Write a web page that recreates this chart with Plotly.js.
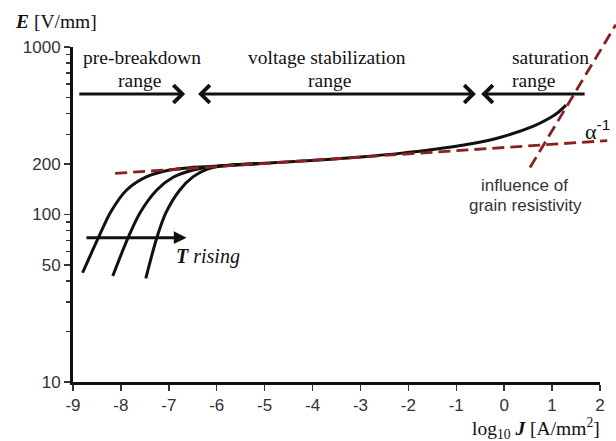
<!DOCTYPE html>
<html>
<head>
<meta charset="utf-8">
<script src="https://cdn.plot.ly/plotly-3.0.1.min.js"></script>
<style>html,body{margin:0;padding:0;background:#fff;}#chart{width:616px;height:441px;}</style>
</head>
<body>
<div id="chart"></div>
<script>
// ---------- data ----------
const xTicks = [-9, -8, -7, -6, -5, -4, -3, -2, -1, 0, 1, 2];
const xTickText = ['-9', '-8', '-7', '-6', '-5', '-4', '-3', '-2', '-1', '0', '1', '2'];
const yTicks = [10, 50, 100, 200, 1000];
const yTickText = ['10', '50', '100', '200', '1000'];
const yMinorTicks = [20, 30, 40, 60, 70, 80, 90, 300, 400, 500, 600, 700, 800, 900];

// common curve (voltage stabilization + saturation)
const mainX = [-6.14, -5.10, -3.84, -2.80, -2.18, -1.49, -0.78, -0.09, 0.60, 0.96, 1.13, 1.29];
const mainY = [193.5, 201.6, 211.5, 223.0, 231.7, 244.3, 261.7, 288.5, 336.0, 378.0, 408.0, 450.0];
// pre-breakdown curves at three temperatures
const curve1X = [-8.80, -8.47, -8.21, -7.88, -7.46, -6.98, -6.49, -6.14];
const curve1Y = [44.9, 72.7, 103.9, 140.1, 168.2, 184.4, 191.3, 193.5];
const curve2X = [-8.17, -7.85, -7.60, -7.25, -6.91, -6.49, -6.07, -5.10];
const curve2Y = [42.9, 72.7, 102.5, 140.1, 166.8, 184.4, 192.9, 201.6];
const curve3X = [-7.48, -7.25, -7.06, -6.77, -6.49, -6.21, -5.93, -5.10];
const curve3Y = [41.6, 72.7, 102.5, 140.1, 168.2, 186.2, 194.9, 201.6];
// dashed asymptotes
const alphaX = [-8.12, 2.15];
const alphaY = [176, 276];
const grainX = [0.54, 2.33];
const grainY = [191, 1360];
// range arrows [tail/left, tip/right], level
const preArrow = [-8.90, -6.66];
const stabArrow = [-6.42, -0.59];
const satArrow = [1.71, -0.48];
const rangeArrowY = 524;
const tArrow = [-8.75, -6.63];
const tArrowY = 72.7;

// ---------- layout geometry ----------
const W = 616, H = 441;
const L = 73, R = 600, T = 47, B = 382;
const xr = [-9, 2], yr = [1, 3];
const kx = (xr[1] - xr[0]) / (R - L);
const ky = (yr[1] - yr[0]) / (B - T);
const PX = px => px / W;
const PY = py => 1 - py / H;

const black = '#111';
const red = '#8c1f1f';
const serif = 'Liberation Serif, Times New Roman, serif';
const sans = 'Liberation Sans, Arial, sans-serif';

function blk(x, y) {
  return {x: x, y: y, xaxis: 'x', yaxis: 'y', type: 'scatter', mode: 'lines',
    line: {color: black, width: 3, shape: 'spline', smoothing: 0.9}, hoverinfo: 'skip', showlegend: false};
}
function dash(x, y) {
  return {x: x, y: y, xaxis: 'x2', yaxis: 'y2', type: 'scatter', mode: 'lines',
    line: {color: red, width: 2.8, dash: '12px,6px'}, hoverinfo: 'skip', showlegend: false};
}

const traces = [
  blk(curve1X, curve1Y), blk(curve2X, curve2Y), blk(curve3X, curve3Y), blk(mainX, mainY),
  dash(alphaX, alphaY), dash(grainX, grainY)
];

function label(text, px, py, xanchor, size, family, color) {
  return {text: text, xref: 'paper', yref: 'paper', x: PX(px), y: PY(py),
    xanchor: xanchor, yanchor: 'middle', showarrow: false,
    font: {family: family || serif, size: size || 19.5, color: color || '#111'}};
}
function arrow(tail, tip, yv, head, side, w, s) {
  return {text: '', xref: 'x', yref: 'y', axref: 'x', ayref: 'y',
    x: tip, y: Math.log10(yv), ax: tail, ay: Math.log10(yv),
    showarrow: true, arrowhead: head, startarrowhead: head, arrowside: side,
    arrowwidth: w, arrowsize: s, startarrowsize: s, arrowcolor: black, standoff: 0, startstandoff: 0};
}

const annotations = [
  label('<b><i>E</i></b> [V/mm]', 13, 22, 'left', 19.5),
  label('log<sub>10</sub> <b><i>J</i></b> [A/mm<sup>2</sup>]', 602, 428, 'right', 19.5),
  label('pre-breakdown', 141.7, 58, 'center'),
  label('range', 139, 81, 'center'),
  label('voltage stabilization', 327.5, 58, 'center'),
  label('range', 329, 81, 'center'),
  label('saturation', 510, 58, 'left'),
  label('range', 510, 81, 'left'),
  label('α<sup><span style="font-family:Liberation Sans">-1</span></sup>', 583, 130, 'left', 22),
  label('influence of', 524, 185, 'center', 17, sans, '#333'),
  label('grain resistivity', 525, 205, 'center', 17, sans, '#333'),
  label('<b><i>T</i></b><i> rising</i>', 174, 256, 'left', 20),
  arrow(preArrow[0], preArrow[1], rangeArrowY, 4, 'end', 3, 1.15),
  arrow(stabArrow[0], stabArrow[1], rangeArrowY, 4, 'end+start', 3, 1.15),
  arrow(satArrow[0], satArrow[1], rangeArrowY, 4, 'end', 3, 1.15),
  arrow(tArrow[0], tArrow[1], tArrowY, 2, 'end', 3, 0.85)
];

const tickFont = {family: sans, size: 17, color: '#333'};

const layout = {
  width: W, height: H,
  margin: {l: 0, r: 0, t: 0, b: 0, pad: 0},
  paper_bgcolor: '#fff', plot_bgcolor: 'rgba(0,0,0,0)',
  showlegend: false,
  xaxis: {domain: [PX(L), PX(R)], range: xr, anchor: 'y', tickmode: 'array', tickvals: xTicks,
    ticktext: xTickText,
    ticks: 'outside', ticklen: 6, tickwidth: 1.5, tickcolor: '#333', showline: true, linewidth: 3,
    linecolor: black, showgrid: false, zeroline: false, tickfont: tickFont, fixedrange: true},
  yaxis: {domain: [PY(B), PY(T)], type: 'log', range: yr, anchor: 'x', tickmode: 'array',
    tickvals: yTicks, ticktext: yTickText, ticks: 'outside', ticklen: 6, tickwidth: 1.5, tickcolor: '#333',
    minor: {tickmode: 'array', tickvals: yMinorTicks, ticks: 'outside', ticklen: 4, tickwidth: 1.5, tickcolor: '#333', showgrid: false},
    showline: true, linewidth: 3, linecolor: black, showgrid: false, zeroline: false,
    tickfont: tickFont, fixedrange: true},
  xaxis2: {domain: [0, 1], range: [xr[0] - L * kx, xr[1] + (W - R) * kx], anchor: 'y2',
    visible: false, fixedrange: true},
  yaxis2: {domain: [0, 1], type: 'log', range: [yr[0] - (H - B) * ky, yr[1] + T * ky], anchor: 'x2',
    visible: false, fixedrange: true},
  annotations: annotations
};

Plotly.newPlot('chart', traces, layout, {staticPlot: true, displayModeBar: false});
</script>
</body>
</html>
